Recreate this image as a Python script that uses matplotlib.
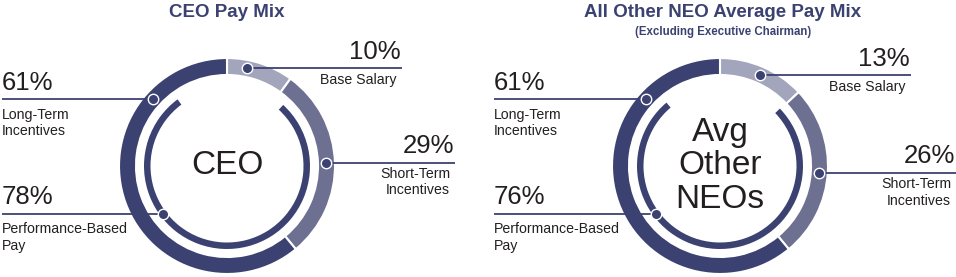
import numpy as np
import matplotlib
matplotlib.use("Agg")
import matplotlib.pyplot as plt

plt.rcParams['font.family'] = ['Liberation Sans', 'DejaVu Sans']

# data
centre_labels = ["CEO", "Avg\nOther\nNEOs"]
titles = ["CEO Pay Mix", "All Other NEO Average Pay Mix"]
subtitles = ["", "(Excluding Executive Chairman)"]
base_salary = [10, 13]
short_term = [29, 26]
long_term = [61, 61]
perf_based = [78, 76]

# colours
DARK = '#3b4271'
MID = '#6e7092'
LIGHT = '#a3a5bc'
TEXT = '#231f20'

W, H = 956, 277
R_OUT, W_OUT = 108, 17   # white edge eats ~1px each side
R_IN, W_IN = 83, 6.5

# layout per panel (pixel coords, y measured from the top)
centres = [(227, 166), (720, 166)]
left_x = [2, 494]
base_end = [402, 911]
sti_end = [455, 956]
# dot angles, degrees clockwise from 12 o'clock
dot_ang = [
    {'base': 11.5, 'sti': 88, 'lti': -48, 'perf': 233},
    {'base': 24, 'sti': 94, 'lti': -48, 'perf': 233},
]
gap_centre = 3  # inner ring gap is a touch right of top


def Y(y):
    return H - y


fig = plt.figure(figsize=(W / 100, H / 100), dpi=100)
ax = fig.add_axes([0, 0, 1, 1])

for i in range(2):
    cx, cy = centres[i]
    c = (cx, Y(cy))

    # outer ring: base, short-term, long-term
    ax.pie([base_salary[i], short_term[i], long_term[i]],
           colors=[LIGHT, MID, DARK], startangle=90, counterclock=False,
           radius=R_OUT, center=c,
           wedgeprops=dict(width=W_OUT, edgecolor='white', linewidth=1.5))

    # inner ring: performance based
    gap = (100 - perf_based[i]) * 3.6
    ax.pie([perf_based[i], 100 - perf_based[i]], colors=[DARK, 'none'],
           startangle=90 - gap_centre - gap / 2, counterclock=False,
           radius=R_IN, center=c,
           wedgeprops=dict(width=W_IN, linewidth=0))

    def dot(key, r):
        a = np.deg2rad(dot_ang[i][key])
        return cx + r * np.sin(a), Y(cy) + r * np.cos(a)

    r_mid_out = R_OUT - W_OUT / 2
    r_mid_in = R_IN - W_IN / 2

    # left side callouts
    for key, r, pct, lab in [
        ('lti', r_mid_out, long_term[i], "Long-Term\nIncentives"),
        ('perf', r_mid_in, perf_based[i], "Performance-Based\nPay"),
    ]:
        dx, dy = dot(key, r)
        ax.plot([left_x[i], dx], [dy, dy], color=DARK, lw=1.3,
                solid_capstyle='butt', zorder=3)
        ax.plot(dx, dy, 'o', ms=7.5, mfc=DARK, mec='white', mew=1.0,
                zorder=4)
        ax.text(left_x[i], dy + 9.5, f"{pct}%", fontsize=18.5, color=TEXT,
                ha='left', va='baseline')
        ax.text(left_x[i], dy - 8.5, lab, fontsize=10.2, color=TEXT,
                ha='left', va='top', linespacing=1.2)

    # right side callouts
    for key, end, pct, lab in [
        ('base', base_end[i], base_salary[i], "Base Salary"),
        ('sti', sti_end[i], short_term[i], "Short-Term\nIncentives"),
    ]:
        dx, dy = dot(key, r_mid_out)
        ax.plot([dx, end], [dy, dy], color=DARK, lw=1.3,
                solid_capstyle='butt', zorder=3)
        ax.plot(dx, dy, 'o', ms=7.5, mfc=DARK, mec='white', mew=1.0,
                zorder=4)
        ax.text(end - 1, dy + 9.5, f"{pct}%", fontsize=18.5, color=TEXT,
                ha='right', va='baseline')
        ax.text(end - 5, dy - 4.5, lab, fontsize=10.2, color=TEXT,
                ha='right', va='top', linespacing=1.2)

    # centre text
    ax.text(cx, Y(cy), centre_labels[i], fontsize=24, color=TEXT,
            ha='center', va='center', linespacing=1.12)

    # titles
    tx = cx if i == 0 else 723
    ax.text(tx, Y(17), titles[i], fontsize=13.5, fontweight='bold',
            color=DARK, ha='center', va='baseline')
    if subtitles[i]:
        ax.text(tx, Y(34.5), subtitles[i], fontsize=8.3, fontweight='bold',
                color=DARK, ha='center', va='baseline')

ax.set_xlim(0, W)
ax.set_ylim(0, H)
ax.set_aspect('equal')
ax.axis('off')

fig.savefig('out.png', dpi=100, facecolor='white')
